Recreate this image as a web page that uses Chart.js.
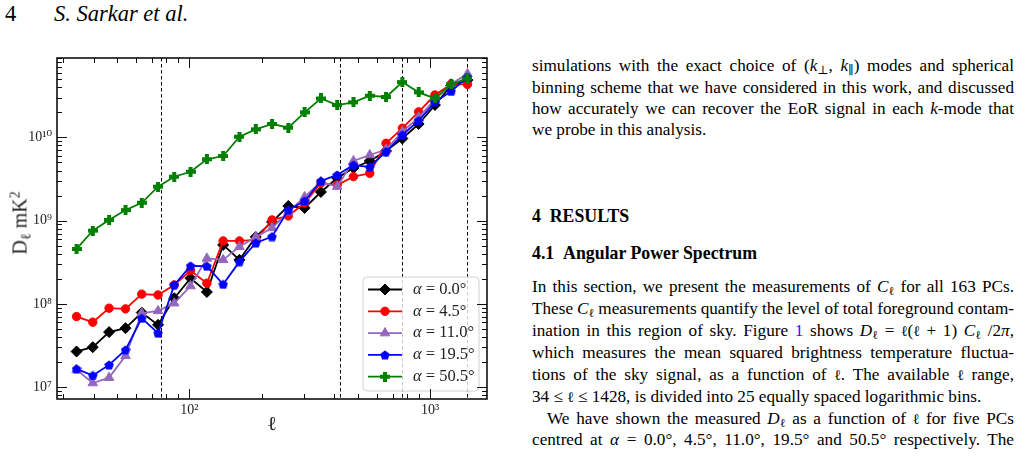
<!DOCTYPE html>
<html>
<head>
<meta charset="utf-8">
<script src="https://cdn.jsdelivr.net/npm/chart.js@4.4.1/dist/chart.umd.min.js"></script>
<style>
  html, body { margin: 0; padding: 0; background: #fff; }
  body { width: 1027px; height: 458px; position: relative; overflow: hidden;
         font-family: "Liberation Serif", "DejaVu Serif", serif; color: #000; }
  #chartBox { position: absolute; left: 0; top: 0; width: 500px; height: 458px; }
  .hdr { position: absolute; top: 1px; font-size: 22.5px; line-height: 26px; }
  .ytitle { position: absolute; left: 20px; top: 223px; transform: translate(-50%, -50%) rotate(-90deg);
            white-space: nowrap; font-size: 20px; color: #222; }
  .xtitle { position: absolute; left: 272px; top: 423px; transform: translate(-50%, -50%);
            font-size: 20px; color: #222; }
  .ln { position: absolute; left: 532px; font-size: 17.2px; line-height: 22px; white-space: nowrap; }
  .ln.ind { left: 547px; }
  .hd { position: absolute; left: 532px; font-size: 17.8px; font-weight: bold; line-height: 22px; white-space: nowrap; }
  .e { font-size: 0.85em; letter-spacing: -0.5px; }
  sub { font-size: 70%; vertical-align: -0.25em; line-height: 0; }
  sup { font-size: 70%; vertical-align: 0.5em; line-height: 0; }
  .ref { color: #1a1aff; }
</style>
</head>
<body>
<div class="hdr" style="left:5px;">4</div>
<div class="hdr" style="left:54px;font-style:italic;">S. Sarkar et al.</div>

<div id="chartBox"><canvas id="powerSpectrum"></canvas></div>
<div class="ytitle">D<sub>ℓ</sub> mK<sup>2</sup></div>
<div class="xtitle">ℓ</div>

<div class="ln just" style="top:55px;">simulations with the exact choice of (<i>k</i><sub>⊥</sub>, <i>k</i><sub>∥</sub>) modes and spherical</div>
<div class="ln just" style="top:77px;">binning scheme that we have considered in this work, and discussed</div>
<div class="ln just" style="top:98px;">how accurately we can recover the EoR signal in each <i>k</i>-mode that</div>
<div class="ln" style="top:119px;">we probe in this analysis.</div>

<div class="hd" style="top:205px;">4&nbsp;&nbsp;RESULTS</div>
<div class="hd" style="top:242px;">4.1&nbsp;&nbsp;Angular Power Spectrum</div>

<div class="ln just" style="top:276px;">In this section, we present the measurements of <i>C</i><sub>ℓ</sub> for all 163 PCs.</div>
<div class="ln just" style="top:298px;">These <i>C</i><sub>ℓ</sub> measurements quantify the level of total foreground contam-</div>
<div class="ln just" style="top:320px;">ination in this region of sky. Figure <span class="ref">1</span> shows <i>D</i><sub>ℓ</sub> = <span class="e">ℓ</span>(<span class="e">ℓ</span> + 1) <i>C</i><sub>ℓ</sub> /2<i>π</i>,</div>
<div class="ln just" style="top:342px;">which measures the mean squared brightness temperature fluctua-</div>
<div class="ln just" style="top:364px;">tions of the sky signal, as a function of <span class="e">ℓ</span>. The available <span class="e">ℓ</span> range,</div>
<div class="ln" style="top:386px;">34 ≤ <span class="e">ℓ</span> ≤ 1428, is divided into 25 equally spaced logarithmic bins.</div>
<div class="ln just ind" style="top:408px;">We have shown the measured <i>D</i><sub>ℓ</sub> as a function of <span class="e">ℓ</span> for five PCs</div>
<div class="ln just" style="top:429px;">centred at <i>α</i> = 0.0°, 4.5°, 11.0°, 19.5° and 50.5° respectively. The</div>

<script>
// multipole bin centres (34 <= l <= 1428, 25 log bins)
const ells = [34.0, 39.7, 46.4, 54.3, 63.4, 74.1, 86.5, 101.1, 118.2, 138.1, 161.4, 188.6, 220.4,
              257.5, 300.9, 351.6, 410.9, 480.1, 561.1, 655.6, 766.1, 895.2, 1046, 1222, 1428];

// D_l in mK^2 for each PC
const dlAlpha00 = [2.68e7, 3.02e7, 4.58e7, 5.11e7, 7.86e7, 5.60e7, 1.17e8, 2.03e8, 1.39e8, 5.11e8, 3.38e8, 6.37e8, 9.65e8,
                   1.50e9, 1.42e9, 2.21e9, 3.25e9, 4.29e9, 5.21e9, 6.87e9, 9.70e9, 1.45e10, 2.45e10, 4.20e10, 4.89e10];
const dlAlpha45 = [7.04e7, 6.03e7, 8.88e7, 8.71e7, 1.31e8, 1.28e8, 1.69e8, 2.51e8, 1.77e8, 5.71e8, 5.71e8, 5.87e8, 1.02e9,
                   1.14e9, 1.63e9, 2.84e9, 2.68e9, 3.38e9, 3.71e9, 8.50e9, 1.29e10, 2.03e10, 3.23e10, 4.38e10, 4.34e10];
const dlAlpha110 = [1.61e7, 1.12e7, 1.30e7, 2.38e7, 7.73e7, 8.24e7, 1.02e8, 1.64e8, 3.52e8, 3.38e8, 4.87e8, 6.37e8, 8.17e8,
                    1.27e9, 1.93e9, 2.91e9, 2.57e9, 5.21e9, 6.15e9, 7.16e9, 1.17e10, 1.74e10, 2.85e10, 4.38e10, 5.80e10];
const dlAlpha195 = [1.66e7, 1.38e7, 1.85e7, 2.80e7, 6.73e7, 4.45e7, 1.69e8, 2.86e8, 2.84e8, 1.72e8, 3.22e8, 5.40e8, 6.43e8,
                    1.34e9, 1.72e9, 3.00e9, 3.54e9, 4.66e9, 4.41e9, 6.77e9, 1.07e10, 1.59e10, 2.66e10, 3.58e10, 5.31e10];
const dlAlpha505 = [4.57e8, 7.59e8, 1.02e9, 1.34e9, 1.64e9, 2.56e9, 3.37e9, 3.87e9, 5.46e9, 5.98e9, 1.02e10, 1.25e10, 1.45e10,
                    1.31e10, 2.00e10, 2.94e10, 2.45e10, 2.64e10, 3.17e10, 3.06e10, 4.62e10, 3.48e10, 2.94e10, 4.34e10, 5.12e10];

const alphaLabels = ['0.0°', '4.5°', '11.0°', '19.5°', '50.5°'];

// k-mode boundaries (dashed lines)
const kLines = [76, 421, 760, 1425];

const xTickValues = [100, 1000];
const xTickLabels = ['10²', '10³'];
const yTickValues = [1e7, 1e8, 1e9, 1e10];
const yTickLabels = ['10⁷', '10⁸', '10⁹', '10¹⁰'];

// justify the text column by hand: spread the spaces so each line ends at the column edge
const COLUMN_RIGHT = 1014;
document.querySelectorAll('.ln.just').forEach(el => {
    const box = el.getBoundingClientRect();
    const spaces = (el.textContent.match(/ /g) || []).length;
    if (spaces) el.style.wordSpacing = ((COLUMN_RIGHT - box.right) / spaces) + 'px';
});

// matplotlib-ish markers that chart.js doesn't have
function makeMarker(size, draw) {
    const c = document.createElement('canvas');
    c.width = size; c.height = size;
    draw(c.getContext('2d'), size);
    return c;
}
const pentagon = makeMarker(10, (g, s) => {
    g.fillStyle = '#0000ff';
    g.beginPath();
    const r = s / 2;
    for (let i = 0; i < 5; i++) {
        const a = -Math.PI / 2 + i * 2 * Math.PI / 5;
        g.lineTo(s / 2 + r * Math.cos(a), s / 2 + 0.5 + r * Math.sin(a));
    }
    g.closePath();
    g.fill();
});
const plusFilled = makeMarker(10, (g, s) => {
    g.fillStyle = '#008000';
    const w = 4;
    g.fillRect((s - w) / 2, 0, w, s);
    g.fillRect(0, (s - w) / 2, s, w);
});

const series = [
    { values: dlAlpha00, color: '#000000', style: 'rectRot', radius: 5.5 },
    { values: dlAlpha45, color: '#ff0000', style: 'circle', radius: 4.2 },
    { values: dlAlpha110, color: '#9467bd', style: 'triangle', radius: 5.5 },
    { values: dlAlpha195, color: '#0000ff', style: pentagon, radius: 5 },
    { values: dlAlpha505, color: '#008000', style: plusFilled, radius: 5 },
];

const datasets = series.map((s, i) => ({
    label: 'α = ' + alphaLabels[i],
    data: ells.map((l, j) => ({ x: l, y: s.values[j] })),
    borderColor: s.color,
    backgroundColor: s.color,
    borderWidth: 1.8,
    pointStyle: s.style,
    pointRadius: s.radius,
    pointBorderWidth: 1,
    pointBackgroundColor: s.color,
    pointBorderColor: s.color,
    tension: 0,
    order: series.length - 1 - i,
}));

const kLinePlugin = {
    id: 'kLines',
    beforeDatasetsDraw(chart) {
        const { ctx, chartArea: a, scales: { x } } = chart;
        ctx.save();
        ctx.strokeStyle = '#000';
        ctx.lineWidth = 1;
        ctx.setLineDash([3.5, 2.5]);
        kLines.forEach(v => {
            const px = Math.round(x.getPixelForValue(v)) + 0.5;
            ctx.beginPath();
            ctx.moveTo(px, a.top);
            ctx.lineTo(px, a.bottom);
            ctx.stroke();
        });
        ctx.restore();
    }
};

const legendPlugin = {
    id: 'boxLegend',
    afterDatasetsDraw(chart) {
        const { ctx, chartArea: a } = chart;
        const w = 116, h = 114;
        const x0 = a.right - 8 - w, y0 = a.bottom - 8 - h;
        ctx.save();
        ctx.beginPath();
        ctx.roundRect(x0, y0, w, h, 4);
        ctx.fillStyle = 'rgba(255,255,255,0.8)';
        ctx.fill();
        ctx.strokeStyle = '#d0d0d0';
        ctx.lineWidth = 1;
        ctx.stroke();
        series.forEach((s, i) => {
            const yy = y0 + 12.5 + i * 21.8;
            ctx.strokeStyle = s.color;
            ctx.fillStyle = s.color;
            ctx.lineWidth = 1.8;
            ctx.beginPath();
            ctx.moveTo(x0 + 5, yy);
            ctx.lineTo(x0 + 39, yy);
            ctx.stroke();
            ctx.lineWidth = 1;
            Chart.helpers.drawPoint(ctx, { pointStyle: s.style, radius: s.radius, rotation: 0, borderWidth: 1 }, x0 + 22, yy);
            ctx.fillStyle = '#222';
            ctx.textBaseline = 'middle';
            ctx.font = 'italic 16.5px "Liberation Serif"';
            ctx.fillText('α', x0 + 50, yy);
            const aw = ctx.measureText('α').width;
            ctx.font = '16.5px "Liberation Serif"';
            ctx.fillText(' = ' + alphaLabels[i], x0 + 50 + aw, yy);
        });
        ctx.restore();
    }
};

// inward ticks on all four sides + axes frame
const framePlugin = {
    id: 'frame',
    afterDraw(chart) {
        const { ctx, chartArea: a, scales: { x, y } } = chart;
        ctx.save();
        ctx.strokeStyle = '#111';
        ctx.lineWidth = 1;
        const seg = (x1, y1, x2, y2) => { ctx.beginPath(); ctx.moveTo(x1, y1); ctx.lineTo(x2, y2); ctx.stroke(); };
        for (let d = 1; d <= 3; d++) {
            for (let m = 1; m <= 9; m++) {
                const v = m * Math.pow(10, d);
                if (v < x.min || v > x.max) continue;
                const px = Math.round(x.getPixelForValue(v)) + 0.5;
                const len = m === 1 ? 10 : 5;
                seg(px, a.bottom, px, a.bottom - len);
                seg(px, a.top, px, a.top + len);
            }
        }
        for (let d = 6; d <= 10; d++) {
            for (let m = 1; m <= 9; m++) {
                const v = m * Math.pow(10, d);
                if (v < y.min || v > y.max) continue;
                const py = Math.round(y.getPixelForValue(v)) + 0.5;
                const len = m === 1 ? 10 : 5;
                seg(a.left, py, a.left + len, py);
                seg(a.right, py, a.right - len, py);
            }
        }
        ctx.lineWidth = 1.5;
        ctx.strokeStyle = '#000';
        ctx.strokeRect(a.left, a.top, a.right - a.left, a.bottom - a.top);
        ctx.restore();
    }
};

const tickFont = { family: '"Liberation Serif", "DejaVu Serif", serif', size: 14 };

new Chart(document.getElementById('powerSpectrum'), {
    type: 'line',
    data: { datasets },
    options: {
        responsive: true,
        maintainAspectRatio: false,
        animation: false,
        devicePixelRatio: 1,
        layout: { padding: { left: 0, right: 13, top: 58, bottom: 0 } },
        plugins: { legend: { display: false }, tooltip: { enabled: false } },
        scales: {
            x: {
                type: 'logarithmic',
                min: 28.2,
                max: 1721,
                grid: { display: false, drawTicks: false },
                border: { display: false },
                ticks: { font: tickFont, color: '#222', padding: 3, maxRotation: 0, autoSkip: false,
                         callback: (v, i) => xTickLabels[i] },
                afterBuildTicks: s => { s.ticks = xTickValues.map(v => ({ value: v })); },
                afterFit: s => { s.height = 59; }
            },
            y: {
                type: 'logarithmic',
                min: 7.2e6,
                max: 9e10,
                grid: { display: false, drawTicks: false },
                border: { display: false },
                ticks: { font: tickFont, color: '#222', padding: 5, autoSkip: false,
                         callback: (v, i) => yTickLabels[i] },
                afterBuildTicks: s => { s.ticks = yTickValues.map(v => ({ value: v })); },
                afterFit: s => { s.width = 57; }
            }
        }
    },
    plugins: [kLinePlugin, legendPlugin, framePlugin]
});
</script>
</body>
</html>
